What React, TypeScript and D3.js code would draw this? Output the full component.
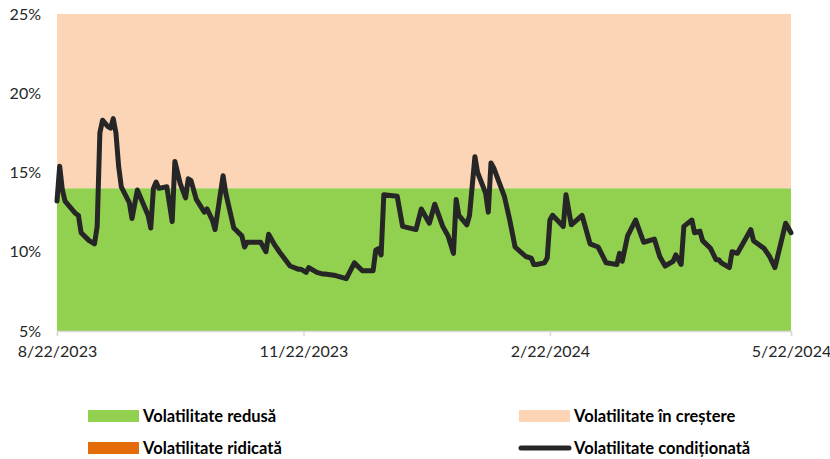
import React, { useEffect, useRef } from 'react';
import * as d3 from 'd3';

// conditional volatility (date, %)
const dates = [
  '2023-08-22', '2023-08-23', '2023-08-24', '2023-08-25', '2023-08-28', '2023-08-29', '2023-08-30', '2023-08-31',
  '2023-09-03', '2023-09-05', '2023-09-06', '2023-09-07', '2023-09-08', '2023-09-10', '2023-09-11', '2023-09-12',
  '2023-09-13', '2023-09-14', '2023-09-15', '2023-09-18', '2023-09-19', '2023-09-21', '2023-09-24', '2023-09-25',
  '2023-09-26', '2023-09-27', '2023-09-28', '2023-09-29', '2023-10-02', '2023-10-04', '2023-10-05', '2023-10-07',
  '2023-10-09', '2023-10-10', '2023-10-11', '2023-10-13', '2023-10-16', '2023-10-17', '2023-10-19', '2023-10-20',
  '2023-10-23', '2023-10-24', '2023-10-27', '2023-10-30', '2023-10-31', '2023-11-01', '2023-11-06', '2023-11-08',
  '2023-11-09', '2023-11-11', '2023-11-13', '2023-11-17', '2023-11-20', '2023-11-21', '2023-11-23', '2023-11-24',
  '2023-11-27', '2023-11-29', '2023-11-30', '2023-12-04', '2023-12-08', '2023-12-11', '2023-12-14', '2023-12-18',
  '2023-12-19', '2023-12-20', '2023-12-21', '2023-12-22', '2023-12-27', '2023-12-29', '2024-01-03', '2024-01-05',
  '2024-01-08', '2024-01-10', '2024-01-13', '2024-01-15', '2024-01-17', '2024-01-18', '2024-01-19', '2024-01-22',
  '2024-01-23', '2024-01-25', '2024-01-26', '2024-01-29', '2024-01-30', '2024-01-31', '2024-02-01', '2024-02-05',
  '2024-02-07', '2024-02-09', '2024-02-13', '2024-02-15', '2024-02-16', '2024-02-17', '2024-02-20', '2024-02-21',
  '2024-02-22', '2024-02-23', '2024-02-27', '2024-02-28', '2024-03-01', '2024-03-05', '2024-03-08', '2024-03-11',
  '2024-03-14', '2024-03-18', '2024-03-19', '2024-03-20', '2024-03-22', '2024-03-25', '2024-03-28', '2024-04-01',
  '2024-04-03', '2024-04-05', '2024-04-08', '2024-04-09', '2024-04-11', '2024-04-12', '2024-04-15', '2024-04-16',
  '2024-04-18', '2024-04-19', '2024-04-22', '2024-04-24', '2024-04-25', '2024-04-26', '2024-04-29', '2024-04-30',
  '2024-05-02', '2024-05-07', '2024-05-08', '2024-05-12', '2024-05-14', '2024-05-16', '2024-05-20', '2024-05-22',
];
const volatility = [
  13.2, 15.4, 13.9, 13.2, 12.6, 12.4, 12.3, 11.2,
  10.7, 10.5, 11.6, 17.5, 18.3, 17.9, 17.8, 18.4,
  17.5, 15.4, 14.1, 13.1, 12.1, 13.9, 12.7, 12.3,
  11.5, 14.0, 14.4, 14.0, 14.1, 11.9, 15.7, 14.3,
  13.4, 14.6, 14.5, 13.3, 12.5, 12.7, 12.0, 11.4,
  14.8, 13.7, 11.5, 11.0, 10.3, 10.6, 10.6, 10.0,
  11.1, 10.5, 10.0, 9.1, 8.9, 8.9, 8.7, 9.0,
  8.7, 8.6, 8.6, 8.5, 8.3, 9.3, 8.8, 8.8,
  10.1, 10.2, 9.8, 13.6, 13.5, 11.6, 11.4, 12.7,
  11.8, 13.0, 11.6, 11.0, 9.9, 13.3, 12.3, 11.7,
  12.3, 16.0, 15.0, 13.7, 12.5, 15.6, 15.3, 13.5,
  12.0, 10.3, 9.7, 9.6, 9.2, 9.2, 9.3, 9.6,
  12.0, 12.3, 11.6, 13.6, 11.7, 12.3, 10.5, 10.3,
  9.3, 9.2, 9.9, 9.4, 11.0, 12.0, 10.6, 10.8,
  9.7, 9.1, 9.4, 9.8, 9.2, 11.6, 12.0, 11.2,
  11.3, 10.7, 10.2, 9.5, 9.5, 9.3, 9.0, 10.0,
  9.9, 11.4, 10.7, 10.2, 9.7, 9.0, 11.8, 11.2,
];

// regime bands (%)
const bandLow = [5, 14];
const bandRising = [14, 25];
const yTicks = [5, 10, 15, 20, 25];
const xTickLabels = ['8/22/2023', '11/22/2023', '2/22/2024', '5/22/2024'];

const legendItems = [
  { label: 'Volatilitate redusă', color: '#92D050', kind: 'box' },
  { label: 'Volatilitate în creștere', color: '#FBD5B5', kind: 'box' },
  { label: 'Volatilitate ridicată', color: '#E46C0A', kind: 'box' },
  { label: 'Volatilitate condiționată', color: '#262626', kind: 'line' },
];

const font = 'Lato, "Open Sans", sans-serif';

export default function App() {
  const svgRef = useRef<SVGSVGElement>(null);

  useEffect(() => {
    const width = 830;
    const height = 459;
    const margin = { top: 14, right: 39, bottom: 128, left: 57 };

    const parse = d3.timeParse('%Y-%m-%d');
    const series = dates.map((d, i) => ({ date: parse(d) as Date, v: volatility[i] }));
    const tickDates = xTickLabels.map(d => d3.timeParse('%m/%d/%Y')(d) as Date);

    const svg = d3.select(svgRef.current);
    svg.selectAll('*').remove();

    const x = d3.scaleTime()
      .domain([tickDates[0], tickDates[tickDates.length - 1]])
      .range([margin.left, width - margin.right]);

    const y = d3.scaleLinear()
      .domain([5, 25])
      .range([height - margin.bottom, margin.top]);

    // bands
    svg.append('rect')
      .attr('x', x.range()[0])
      .attr('width', x.range()[1] - x.range()[0])
      .attr('y', y(bandRising[1]))
      .attr('height', y(bandRising[0]) - y(bandRising[1]))
      .attr('fill', '#FBD5B5');

    svg.append('rect')
      .attr('x', x.range()[0])
      .attr('width', x.range()[1] - x.range()[0])
      .attr('y', y(bandLow[1]))
      .attr('height', y(bandLow[0]) - y(bandLow[1]))
      .attr('fill', '#92D050');

    // y labels
    svg.append('g')
      .selectAll('text')
      .data(yTicks)
      .join('text')
      .attr('x', 41)
      .attr('y', d => y(d))
      .attr('dy', '0.35em')
      .attr('text-anchor', 'end')
      .attr('font-family', font)
      .attr('font-size', 16)
      .attr('fill', '#262626')
      .text(d => `${d}%`);

    // x axis
    const xAxis = svg.append('g')
      .attr('transform', `translate(0,${height - margin.bottom})`)
      .call(d3.axisBottom(x)
        .tickValues(tickDates)
        .tickFormat((d, i) => xTickLabels[i])
        .tickSize(5)
        .tickPadding(10));
    xAxis.select('.domain').attr('stroke', '#D9D9D9').attr('stroke-width', 1.5);
    xAxis.selectAll('.tick line').attr('stroke', '#D9D9D9').attr('stroke-width', 1.5);
    xAxis.selectAll('.tick text')
      .attr('font-family', font)
      .attr('font-size', 16)
      .attr('fill', '#262626');

    // line
    const line = d3.line<{ date: Date; v: number }>()
      .x(d => x(d.date))
      .y(d => y(d.v));

    svg.append('path')
      .datum(series)
      .attr('fill', 'none')
      .attr('stroke', '#262626')
      .attr('stroke-width', 5)
      .attr('stroke-linejoin', 'round')
      .attr('stroke-linecap', 'round')
      .attr('d', line);

    // legend
    const legendPos = [
      { x: 88, y: 410 },
      { x: 519, y: 410 },
      { x: 88, y: 442 },
      { x: 519, y: 442 },
    ];
    const legend = svg.append('g');
    legendItems.forEach((item, i) => {
      const p = legendPos[i];
      if (item.kind === 'box') {
        legend.append('rect')
          .attr('x', p.x)
          .attr('y', p.y)
          .attr('width', 51)
          .attr('height', 12)
          .attr('fill', item.color);
      } else {
        legend.append('line')
          .attr('x1', p.x + 2)
          .attr('x2', p.x + 50)
          .attr('y1', p.y + 6)
          .attr('y2', p.y + 6)
          .attr('stroke', item.color)
          .attr('stroke-width', 5)
          .attr('stroke-linecap', 'round');
      }
      legend.append('text')
        .attr('x', p.x + 55)
        .attr('y', p.y + 6)
        .attr('dy', '0.35em')
        .attr('font-family', font)
        .attr('font-size', 16.5)
        .attr('font-weight', 'bold')
        .attr('fill', '#000')
        .text(item.label);
    });
  }, []);

  return (
    <svg
      ref={svgRef}
      width={830}
      height={459}
      style={{ position: 'absolute', left: 0, top: 0, background: '#fff' }}
    />
  );
}
